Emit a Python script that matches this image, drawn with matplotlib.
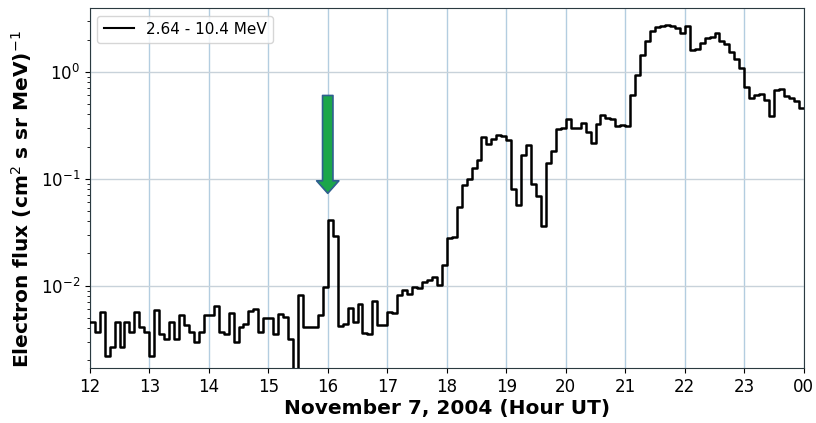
import numpy as np
import matplotlib.pyplot as plt

# 5-minute electron flux, one list per hour (12 bins each)
hour_12 = [0.0046, 0.0037, 0.0057, 0.0022, 0.0027, 0.0046, 0.0027, 0.0046, 0.0037, 0.0057, 0.0041, 0.0037]
hour_13 = [0.0022, 0.0059, 0.0035, 0.0032, 0.0046, 0.0032, 0.0053, 0.0043, 0.0037, 0.0030, 0.0037, 0.0053]
hour_14 = [0.0053, 0.0065, 0.0037, 0.0035, 0.0056, 0.0030, 0.0041, 0.0044, 0.0058, 0.0060, 0.0037, 0.0050]
hour_15 = [0.0050, 0.0035, 0.0054, 0.0051, 0.0032, 0.0008, 0.0082, 0.0041, 0.0041, 0.0041, 0.0053, 0.0097]
hour_16 = [0.041, 0.029, 0.0042, 0.0044, 0.0062, 0.0046, 0.0068, 0.0036, 0.0035, 0.0072, 0.0043, 0.0043]
hour_17 = [0.0057, 0.0055, 0.0082, 0.0091, 0.0084, 0.0097, 0.0095, 0.0109, 0.0113, 0.0120, 0.0102, 0.0156]
hour_18 = [0.0277, 0.0287, 0.0547, 0.087, 0.099, 0.125, 0.150, 0.247, 0.210, 0.234, 0.256, 0.251]
hour_19 = [0.230, 0.081, 0.057, 0.167, 0.206, 0.089, 0.069, 0.036, 0.139, 0.183, 0.290, 0.296]
hour_20 = [0.359, 0.298, 0.301, 0.334, 0.275, 0.214, 0.325, 0.394, 0.367, 0.359, 0.311, 0.318]
hour_21 = [0.311, 0.61, 0.94, 1.43, 1.94, 2.40, 2.62, 2.67, 2.73, 2.67, 2.55, 2.30]
hour_22 = [2.67, 1.60, 1.62, 1.84, 2.05, 2.12, 2.28, 1.95, 1.81, 1.53, 1.31, 1.08]
hour_23 = [0.715, 0.564, 0.606, 0.619, 0.544, 0.386, 0.675, 0.685, 0.593, 0.564, 0.536, 0.455]

flux = (hour_12 + hour_13 + hour_14 + hour_15 + hour_16 + hour_17 +
        hour_18 + hour_19 + hour_20 + hour_21 + hour_22 + hour_23)

start_hour = 12
bin_minutes = 5
hour_ticks = list(range(12, 25))
hour_labels = [str(h) for h in range(12, 24)] + ['00']
arrow_hour = 16
arrow_top = 0.60
arrow_tip = 0.073

t = start_hour + np.arange(len(flux) + 1) * bin_minutes / 60

fig, ax = plt.subplots(figsize=(8.16, 4.23), dpi=100)
fig.subplots_adjust(left=0.110, right=0.985, top=0.981, bottom=0.130)

ax.step(t, flux + [flux[-1]], where='post', color='black', lw=1.8,
        label='2.64 - 10.4 MeV', zorder=3)

ax.set_yscale('log')
ax.set_xlim(12, 24)
ax.set_ylim(1.7e-3, 3.94)
ax.set_xticks(hour_ticks)
ax.set_xticklabels(hour_labels)
ax.tick_params(axis='both', which='major', labelsize=12)
for s in ax.spines.values():
    s.set_color('#2b3a40')

ax.xaxis.grid(True, color='#b3cde0', lw=1)
ax.yaxis.grid(True, which='major', color='#c8d2da', lw=1)
ax.set_axisbelow(True)

ax.set_xlabel('November 7, 2004 (Hour UT)', fontsize=14.5, fontweight='bold', labelpad=2)
ax.set_ylabel('Electron flux (cm$^2$ s sr MeV)$^{-1}$', fontsize=14.5, fontweight='bold')
ax.yaxis.set_label_coords(-0.078, 0.47)

# green arrow over the 16 UT spike
ax.annotate('', xy=(arrow_hour, arrow_tip), xytext=(arrow_hour, arrow_top),
            arrowprops=dict(arrowstyle='simple,head_width=1.6,head_length=0.9,tail_width=0.75',
                            mutation_scale=10, fc='#1ba64a', ec='#2f5f8f', lw=1.2,
                            shrinkA=0, shrinkB=0), zorder=4)

leg = ax.legend(loc='upper left', fontsize=11)
leg.get_lines()[0].set_linewidth(1.5)

fig.savefig('out.png', dpi=100)
